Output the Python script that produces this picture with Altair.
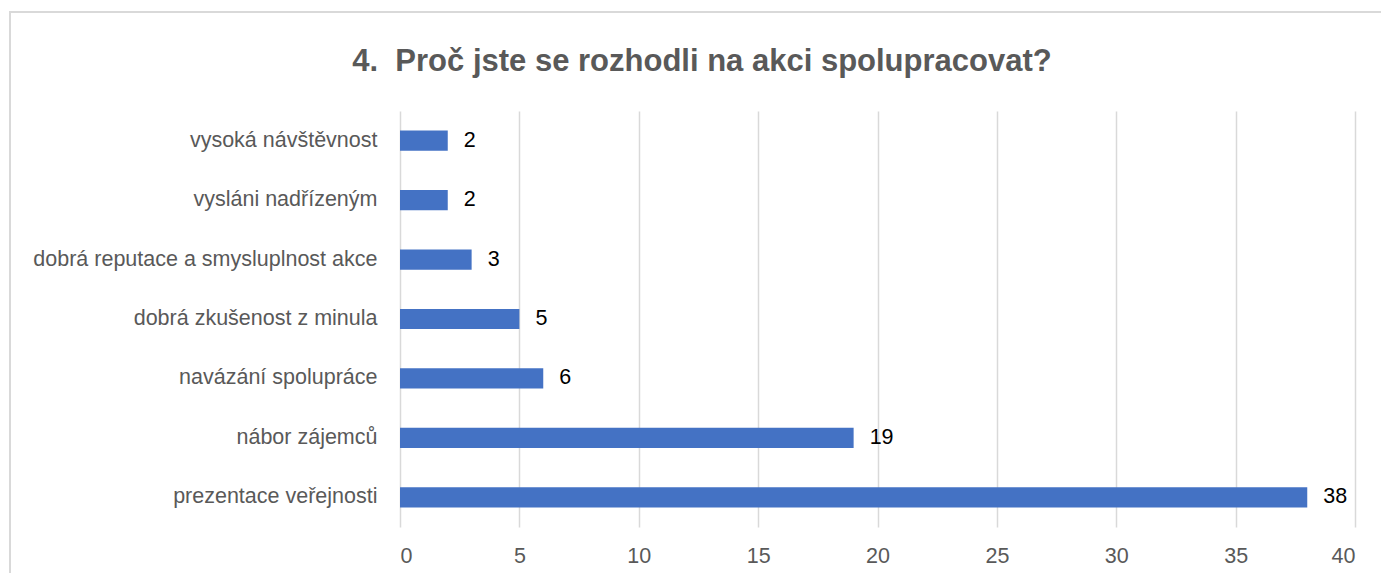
import altair as alt
import pandas as pd

categories = [
    "vysoká návštěvnost",
    "vysláni nadřízeným",
    "dobrá reputace a smysluplnost akce",
    "dobrá zkušenost z minula",
    "navázání spolupráce",
    "nábor zájemců",
    "prezentace veřejnosti",
]
values = [2, 2, 3, 5, 6, 19, 38]
x_ticks = [0, 5, 10, 15, 20, 25, 30, 35, 40]
title_text = ["4.\u00a0 Proč jste se rozhodli na akci spolupracovat?"]

df = pd.DataFrame({"cat": categories, "val": values})
tdf = pd.DataFrame({"t": title_text})

FONT = "Liberation Sans"

y_enc = alt.Y(
    "cat:N",
    sort=categories,
    scale=alt.Scale(paddingInner=0.66, paddingOuter=0.33),
    axis=alt.Axis(
        title=None, domain=False, ticks=False, labelPadding=23,
        labelFontSize=21.5, labelColor="#595959", labelFont=FONT, labelLimit=400,
    ),
)
x_enc = alt.X(
    "val:Q",
    scale=alt.Scale(domain=[0, 40], nice=False),
    axis=alt.Axis(
        title=None, values=x_ticks, domain=False, ticks=False, labelPadding=18,
        labelFontSize=21.5, labelColor="#595959", labelFont=FONT,
        grid=True, gridColor="#d9d9d9", gridWidth=1.5,
    ),
)

bars = alt.Chart(df).mark_bar(color="#4472C4").encode(x=x_enc, y=y_enc)
labels = alt.Chart(df).mark_text(
    align="left", baseline="middle", dx=16, fontSize=21.5, font=FONT, color="#000000"
).encode(x="val:Q", y=alt.Y("cat:N", sort=categories), text="val:Q")

frame = alt.Chart(df).mark_rect(fill=None, stroke="#d9d9d9", strokeWidth=2).encode(
    x=alt.value(-390), x2=alt.value(1100), y=alt.value(-99), y2=alt.value(700)
)

title = alt.Chart(tdf).mark_text(
    align="center", baseline="alphabetic", fontSize=31, font=FONT,
    fontWeight="bold", color="#595959",
).encode(text="t:N", x=alt.value(302), y=alt.value(-40))

chart = alt.layer(frame, bars, labels, title).properties(
    width=955,
    height=416,
    padding={"left": 392, "top": 103, "right": 26, "bottom": 46},
    autosize=alt.AutoSizeParams(type="none"),
).configure_view(stroke=None)

chart.save("out.html", embed_options={"renderer": "svg", "actions": False})
